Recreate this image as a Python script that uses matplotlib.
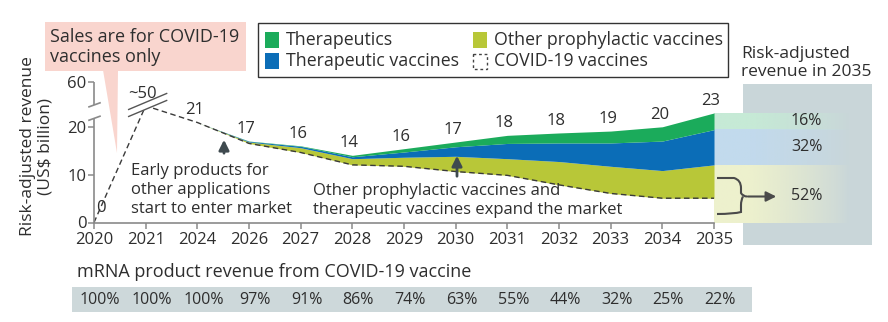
import numpy as np
import matplotlib
matplotlib.use('Agg')
import matplotlib.pyplot as plt
from matplotlib import font_manager
from matplotlib.patches import Rectangle, Polygon, PathPatch, FancyArrowPatch
from matplotlib.path import Path

# ---------------- data ----------------
years = ['2020', '2021', '2024', '2026', '2027', '2028', '2029', '2030',
         '2031', '2032', '2033', '2034', '2035']
total_labels = ['0', '~50', '21', '17', '16', '14', '16', '17', '18', '18', '19', '20', '23']
covid = [0, 50, 21, 16.6, 14.7, 12.1, 11.8, 10.7, 9.9, 7.9, 6.1, 5.1, 5.1]
other_proph = [0, 0, 0, 0.3, 1.0, 1.3, 1.9, 3.2, 3.5, 4.9, 5.7, 5.8, 7.0]
ther_vacc = [0, 0, 0, 0.15, 0.3, 0.4, 1.1, 2.0, 3.2, 3.9, 4.9, 6.2, 7.4]
therapeutics = [0, 0, 0, 0.05, 0.1, 0.3, 0.7, 1.0, 1.7, 2.1, 2.5, 3.0, 3.5]
covid_share = ['100%', '100%', '100%', '97%', '91%', '86%', '74%', '63%',
               '55%', '44%', '32%', '25%', '22%']
share_2035 = ['16%', '32%', '52%']
yticks = [0, 10, 20, 60]

C_TH = '#1bab5b'
C_TV = '#0b6db7'
C_OP = '#b8c738'
TXT = '#2e2e2e'
GRAY = '#8a8a8a'

fl = font_manager.fontManager.ttflist
names = {f.name for f in fl}
FONT = 'Open Sans' if 'Open Sans' in names else 'DejaVu Sans'
NARROW = None
for cand in ['Liberation Sans Narrow', 'Open Sans Condensed', 'Roboto Condensed']:
    if cand in names:
        NARROW = cand
        break
narrow_light = NARROW is not None and any(f.name == NARROW and f.weight in (300, 'light', 400, 'normal', 'regular')
                                          for f in fl)
if NARROW is None or not narrow_light:
    NARROW = FONT
    N_SIZE, P_SIZE, N_W = 13, 11.5, 'normal'
else:
    N_SIZE, P_SIZE, N_W = 14.5, 12.5, 'light'

plt.rcParams['font.family'] = [FONT, 'DejaVu Sans']
plt.rcParams['text.color'] = TXT

W, H = 888, 322
fig = plt.figure(figsize=(W / 100, H / 100), dpi=100)

bg = fig.add_axes([0, 0, 1, 1], zorder=0)
bg.set_xlim(0, W); bg.set_ylim(H, 0); bg.axis('off')

ax = fig.add_axes([94 / W, (H - 222.5) / H, (714 - 94) / W, (222.5 - 82) / H], zorder=1)
ax.patch.set_alpha(0)

fg = fig.add_axes([0, 0, 1, 1], zorder=2)
fg.set_xlim(0, W); fg.set_ylim(H, 0); fg.axis('off')


# broken y scale: linear to 24, compressed break, then 50-60
def fwd(v):
    v = np.asarray(v, float)
    return np.where(v <= 24, v, np.where(v <= 50, 24 + (v - 24) * (0.5 / 26), 24.5 + (v - 50) * 0.5))


def inv(u):
    u = np.asarray(u, float)
    return np.where(u <= 24, u, np.where(u <= 24.5, 24 + (u - 24) * 52, 50 + (u - 24.5) * 2))


ax.set_yscale('function', functions=(fwd, inv))
x = np.arange(len(years))
ax.set_xlim(0, len(years) - 1)
ax.set_ylim(0, 60)

cov = np.array(covid)
op = np.array(other_proph)
tv = np.array(ther_vacc)
th = np.array(therapeutics)
s = slice(2, None)
l1 = cov + op
l2 = l1 + tv
l3 = l2 + th
ax.fill_between(x[s], cov[s], l1[s], color=C_OP, lw=0, zorder=2)
ax.fill_between(x[s], l1[s], l2[s], color=C_TV, lw=0, zorder=2)
ax.fill_between(x[s], l2[s], l3[s], color=C_TH, lw=0, zorder=2)
ax.plot(x, cov, ls=(0, (4, 2.5)), color='#3a3a3a', lw=1.0, zorder=3)

tops = np.where(np.arange(len(x)) >= 2, l3, cov)
for i, lab in enumerate(total_labels):
    dx, dy = (-3, 12)
    if i == 0:
        dx, dy = (7, 14)
    ax.annotate(lab, (x[i], tops[i]), xytext=(dx, dy), textcoords='offset pixels',
                ha='center', va='center', fontsize=12, color=TXT, zorder=5)

# axes styling
for sp in ['top', 'right', 'left']:
    ax.spines[sp].set_visible(False)
ax.spines['bottom'].set_color(GRAY)
ax.spines['bottom'].set_linewidth(1.2)
ax.set_xticks(x)
ax.set_xticklabels(years)
ax.set_yticks(yticks)
ax.set_yticklabels([str(t) for t in yticks])
ax.tick_params(axis='both', direction='out', length=4.5, width=1.1, color=GRAY,
               labelsize=12, labelcolor=TXT, pad=2)
ax.tick_params(axis='y', pad=1)


def px(xv, yv):
    d = ax.transData.transform((xv, yv))
    return d[0], H - d[1]


# manual left spine with break
sx, y0 = px(0, 0)
_, y22 = px(0, 22.0)
_, y51 = px(0, 50.2)
_, y60 = px(0, 60)
fg.plot([sx, sx], [y0, y22], color=GRAY, lw=1.2, solid_capstyle='butt')
fg.plot([sx, sx], [y51, y60], color=GRAY, lw=1.2, solid_capstyle='butt')
for yy in (y22 + 0.5, y51 - 0.5):
    fg.plot([sx - 5, sx + 6], [yy + 2, yy - 2], color=GRAY, lw=1.2)

# break marks on the line at 2021
bx, by = px(1, 50)
k = -16 / 38
fg.add_patch(Polygon([[bx - 17, by - 3.5 - 17 * k], [bx + 21, by - 3.5 + 21 * k],
                      [bx + 21, by + 3.5 + 21 * k], [bx - 17, by + 3.5 - 17 * k]],
                     closed=True, fc='white', ec='none'))
for off in (-3.5, 3.5):
    fg.plot([bx - 17, bx + 21], [by + off - 17 * k, by + off + 21 * k], color='#555555', lw=1.0)

# bottom COVID share row
bg.add_patch(Rectangle((72, 287), 680, 25, fc='#cdd8da', ec='none'))
fg.text(77, 272, 'mRNA product revenue from COVID-19 vaccine', fontsize=N_SIZE, fontweight=N_W,
        family=[NARROW, 'DejaVu Sans'], ha='left', va='center', color=TXT)
for i, lab in enumerate(covid_share):
    xx, _ = px(x[i], 0)
    fg.text(xx + 6, 299.5, lab, fontsize=P_SIZE, fontweight=N_W, family=[NARROW, 'DejaVu Sans'],
            ha='center', va='center', color=TXT)

# right-hand panel
bg.add_patch(Rectangle((743, 84), 129, 161, fc='#c9d6d9', ec='none'))
ex, _ = px(len(x) - 1, 0)
_, yb0 = px(len(x) - 1, 0)
_, yb1 = px(len(x) - 1, l1[-1])
_, yb2 = px(len(x) - 1, l2[-1])
_, yb3 = px(len(x) - 1, l3[-1])
x_end = 848
n = 200
xs = np.linspace(ex, x_end, n)
alpha = np.clip((x_end - xs) / (x_end - 750), 0, 1) ** 0.8
for col, ya, yb_ in [(C_TH, yb3, yb2), (C_TV, yb2, yb1), (C_OP, yb1, yb0)]:
    rgb = np.array(matplotlib.colors.to_rgb(col))
    light = rgb * 0.25 + 0.75
    img = np.zeros((1, n, 4))
    img[0, :, :3] = light
    img[0, :, 3] = alpha
    bg.imshow(img, extent=(ex, x_end, yb_, ya), aspect='auto', interpolation='bilinear', zorder=2)
bg.set_xlim(0, W); bg.set_ylim(H, 0)

fg.text(741, 63, 'Risk-adjusted\nrevenue in 2035', fontsize=12.5, ha='left', va='center',
        linespacing=1.2, color=TXT)
ymid = [(yb3 + yb2) / 2, (yb2 + yb1) / 2, 196]
for lab, yy in zip(share_2035, ymid):
    fg.text(791, yy, lab, fontsize=11.5, ha='left', va='center', color=TXT)

# brace + arrow
verts = [(717, 178), (734, 178), (741, 180), (741, 188), (741, 193), (743, 196.5), (747, 196.5),
         (743, 196.5), (741, 200), (741, 205), (741, 212), (734, 214), (717, 214)]
codes = [Path.MOVETO, Path.LINETO, Path.CURVE3, Path.CURVE3, Path.LINETO, Path.CURVE3, Path.CURVE3,
         Path.MOVETO, Path.CURVE3, Path.CURVE3, Path.LINETO, Path.CURVE3, Path.CURVE3]
fg.add_patch(PathPatch(Path(verts, codes), fc='none', ec='#4a4a4a', lw=1.5))
fg.add_patch(FancyArrowPatch((745, 196.5), (779, 196.5), arrowstyle='-|>,head_length=6,head_width=3',
                             color='#4a4a4a', lw=1.5, mutation_scale=1))

# callout
bg.add_patch(Rectangle((45, 22), 201, 49, fc='#f9d5ce', ec='none'))
bg.add_patch(Polygon([(103, 70), (118, 70), (117, 153)], closed=True, fc='#f9d5ce', ec='none'))
fg.text(50, 47, 'Sales are for COVID-19\nvaccines only', fontsize=13, ha='left', va='center',
        linespacing=1.15, color=TXT)

# y label
fg.text(37, 146, 'Risk-adjusted revenue\n(US$ billion)', fontsize=12.5, rotation=90,
        ha='center', va='center', multialignment='center', linespacing=1.1, color=TXT)

# annotations with arrows
fg.text(131, 190, 'Early products for\nother applications\nstart to enter market', fontsize=12,
        ha='left', va='center', linespacing=1.25, color=TXT)
fg.add_patch(FancyArrowPatch((224, 156), (224, 137), arrowstyle='-|>,head_length=6,head_width=3',
                             color='#3f4a4f', lw=2, mutation_scale=1))
fg.text(313, 200.5, 'Other prophylactic vaccines and\ntherapeutic vaccines expand the market',
        fontsize=12, ha='left', va='center', linespacing=1.25, color=TXT)
fg.add_patch(FancyArrowPatch((457, 179), (457, 153), arrowstyle='-|>,head_length=6,head_width=3',
                             color='#3f4a4f', lw=2, mutation_scale=1))

# legend (manual)
fg.add_patch(Rectangle((258, 23), 470, 54, fc='white', ec='#333333', lw=1.0))
leg = [(265, 40, C_TH, 'Therapeutics', False), (265, 61, C_TV, 'Therapeutic vaccines', False),
       (473, 40, C_OP, 'Other prophylactic vaccines', False), (473, 61, 'white', 'COVID-19 vaccines', True)]
for lx, ly, col, lab, dashed in leg:
    if dashed:
        fg.add_patch(Rectangle((lx, ly - 7.5), 14, 15, fc='white', ec='#444444', lw=1.0, ls=(0, (2, 2))))
    else:
        fg.add_patch(Rectangle((lx, ly - 8), 14, 16, fc=col, ec='none'))
    fg.text(lx + 21, ly, lab, fontsize=12.8, ha='left', va='center', color=TXT)

fig.savefig('out.png', dpi=100)
